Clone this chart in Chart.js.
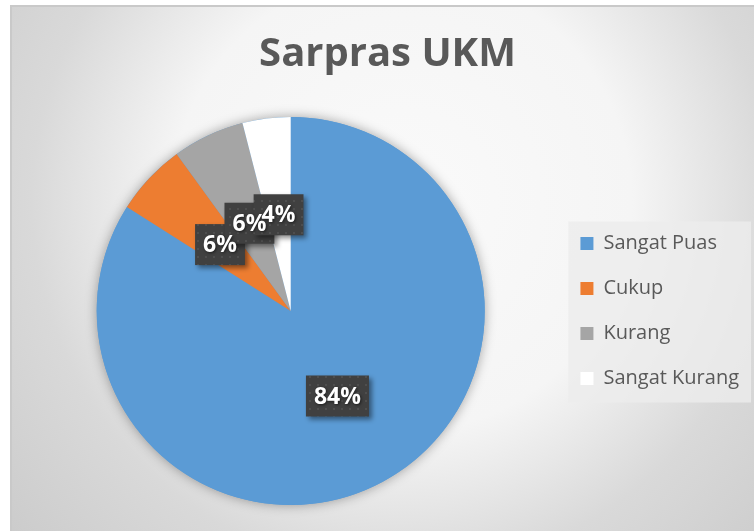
<!DOCTYPE html>
<html>
<head>
<meta charset="utf-8">
<script src="https://cdn.jsdelivr.net/npm/chart.js"></script>
<style>
  html, body { margin: 0; padding: 0; background: #fff; }
  #frame {
    position: absolute; left: 10px; top: 5px; width: 744px; height: 526px;
    box-sizing: border-box;
    border-top: 2px solid #c9c9c9; border-left: 2px solid #c9c9c9;
    background: radial-gradient(circle at 390px 195px, #fafafa 0px, #f5f5f5 230px, #d9d9d9 370px, #cbcbcb 520px);
  }
  #wrap { position: absolute; left: -2px; top: -2px; width: 744px; height: 526px; }
</style>
</head>
<body>
<div id="frame"><div id="wrap"><canvas id="pieChart"></canvas></div></div>
<script>
var categories = ['Sangat Puas', 'Cukup', 'Kurang', 'Sangat Kurang'];
var values = [84, 6, 6, 4];
var sliceColors = ['#5B9BD5', '#ED7D31', '#A5A5A5', '#FFFFFF'];
var chartTitle = 'Sarpras UKM';

var FONT = "'Open Sans', 'DejaVu Sans', sans-serif";

// small dotted texture for the label boxes
function makePattern(ctx) {
  var c = document.createElement('canvas');
  c.width = 8; c.height = 8;
  var p = c.getContext('2d');
  p.fillStyle = '#404040';
  p.fillRect(0, 0, 8, 8);
  p.fillStyle = '#4e4e4e';
  p.fillRect(3, 3, 2, 2);
  return ctx.createPattern(c, 'repeat');
}

// soft shadow under the whole pie
var pieShadow = {
  id: 'pieShadow',
  beforeDatasetsDraw: function(chart) {
    var arc = chart.getDatasetMeta(0).data[0];
    if (!arc) return;
    var p = arc.getProps(['x', 'y', 'outerRadius'], true);
    var ctx = chart.ctx;
    ctx.save();
    ctx.shadowColor = 'rgba(0,0,0,0.35)';
    ctx.shadowBlur = 12;
    ctx.beginPath();
    ctx.arc(p.x, p.y, p.outerRadius, 0, Math.PI * 2);
    ctx.fillStyle = sliceColors[0];
    ctx.fill();
    ctx.restore();
  }
};

// light box behind the legend
var legendBox = {
  id: 'legendBox',
  beforeDraw: function(chart) {
    var hb = chart.legend && chart.legend.legendHitBoxes;
    if (!hb || !hb.length) return;
    var left = hb[0].left - 12;
    var top = hb[0].top - 12;
    var right = 0;
    hb.forEach(function(h) { right = Math.max(right, h.left + h.width); });
    var last = hb[hb.length - 1];
    var bottom = last.top + last.height + 14;
    var ctx = chart.ctx;
    ctx.save();
    ctx.fillStyle = 'rgba(236,236,236,0.8)';
    ctx.fillRect(left, top, right + 12 - left, bottom - top);
    ctx.restore();
  }
};

// percentage labels in dark boxes
var pctLabels = {
  id: 'pctLabels',
  afterDatasetsDraw: function(chart) {
    var ctx = chart.ctx;
    var meta = chart.getDatasetMeta(0);
    var total = values.reduce(function(a, b) { return a + b; }, 0);
    var pattern = makePattern(ctx);
    var boxes = [];
    ctx.save();
    ctx.font = 'bold 23px ' + FONT;
    meta.data.forEach(function(arc, i) {
      var p = arc.getProps(['x', 'y', 'startAngle', 'endAngle', 'outerRadius'], true);
      var mid = (p.startAngle + p.endAngle) / 2;
      var cx = p.x + Math.cos(mid) * p.outerRadius * 0.5;
      var cy = p.y + Math.sin(mid) * p.outerRadius * 0.5;
      var txt = Math.round(values[i] / total * 100) + '%';
      var w = ctx.measureText(txt).width + 16;
      boxes.push({ x: cx, y: cy, w: w, h: 41, txt: txt });
    });
    boxes.forEach(function(b) {
      ctx.save();
      ctx.shadowColor = 'rgba(0,0,0,0.45)';
      ctx.shadowBlur = 5;
      ctx.shadowOffsetX = 3;
      ctx.shadowOffsetY = 3;
      ctx.fillStyle = pattern;
      ctx.fillRect(b.x - b.w / 2, b.y - b.h / 2, b.w, b.h);
      ctx.restore();
    });
    ctx.textAlign = 'center';
    ctx.textBaseline = 'middle';
    ctx.fillStyle = '#ffffff';
    ctx.shadowColor = 'rgba(0,0,0,0.6)';
    ctx.shadowBlur = 3;
    ctx.shadowOffsetX = 1;
    ctx.shadowOffsetY = 1;
    boxes.forEach(function(b) {
      ctx.fillText(b.txt, b.x, b.y + 1);
    });
    ctx.restore();
  }
};

var ctx = document.getElementById('pieChart').getContext('2d');
var myPie = new Chart(ctx, {
  type: 'pie',
  data: {
    labels: categories,
    datasets: [{
      data: values,
      backgroundColor: sliceColors,
      borderWidth: 0
    }]
  },
  options: {
    responsive: true,
    maintainAspectRatio: false,
    animation: false,
    layout: { padding: { left: 16, right: 5, top: 0, bottom: 26 } },
    plugins: {
      title: {
        display: true,
        text: chartTitle,
        color: '#595959',
        font: { family: FONT, size: 40, weight: 'bold' },
        padding: { top: 26, bottom: 38 }
      },
      legend: {
        position: 'right',
        fullSize: false,
        labels: {
          color: '#595959',
          font: { family: FONT, size: 20 },
          boxWidth: 13,
          boxHeight: 13,
          padding: 25
        }
      },
      tooltip: { enabled: false }
    }
  },
  plugins: [pieShadow, legendBox, pctLabels]
});
</script>
</body>
</html>
